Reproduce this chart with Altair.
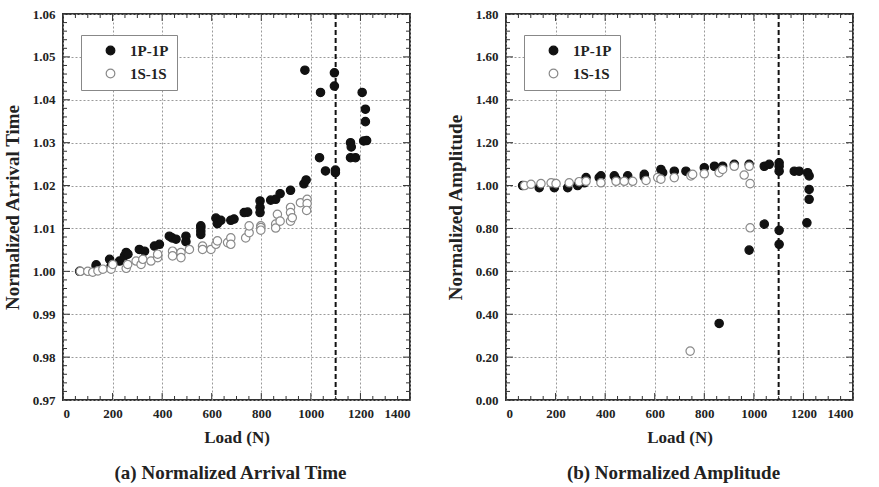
import altair as alt
import pandas as pd

FONT = "Liberation Serif"
W, H = 347, 386

# ---------------- Panel (a): Normalized Arrival Time ----------------
a_p_load = [67, 134, 134, 188, 194, 228, 248, 255, 262, 308, 329, 369, 389, 429, 440, 456,
            496, 496, 556, 556, 556, 556, 617, 623, 637, 677, 690, 731, 745, 795, 795, 795,
            838, 858, 876, 918, 972, 981, 976, 1035, 1039, 1059, 1095, 1095, 1099, 1099,
            1160, 1160, 1163, 1180, 1207, 1220, 1220, 1213, 1225]
a_p_val = [1.0000, 1.0015, 1.0012, 1.0028, 1.0012, 1.0024, 1.0036, 1.0044, 1.0040, 1.0051,
           1.0047, 1.0059, 1.0063, 1.0082, 1.0078, 1.0075, 1.0082, 1.0069, 1.0106, 1.0102,
           1.0094, 1.0086, 1.0124, 1.0111, 1.0119, 1.0119, 1.0122, 1.0137, 1.0138, 1.0164,
           1.0149, 1.0137, 1.0166, 1.0168, 1.0181, 1.0189, 1.0204, 1.0213, 1.0469, 1.0265,
           1.0417, 1.0234, 1.0463, 1.0432, 1.0230, 1.0236, 1.0300, 1.0265, 1.0290, 1.0265,
           1.0417, 1.0378, 1.0349, 1.0304, 1.0305]
a_s_load = [70, 100, 120, 141, 161, 194, 201, 255, 261, 295, 315, 322, 355, 382, 382, 442,
            442, 476, 476, 510, 563, 563, 597, 617, 623, 664, 677, 677, 737, 751, 751, 798,
            798, 798, 858, 858, 865, 876, 918, 918, 918, 925, 958, 985, 985, 983]
a_s_val = [1.0000, 1.0000, 0.9998, 1.0001, 1.0005, 1.0005, 1.0016, 1.0007, 1.0016, 1.0024,
           1.0016, 1.0028, 1.0024, 1.0032, 1.0040, 1.0047, 1.0036, 1.0044, 1.0032, 1.0051,
           1.0059, 1.0051, 1.0051, 1.0063, 1.0071, 1.0067, 1.0078, 1.0063, 1.0078, 1.0090,
           1.0106, 1.0106, 1.0102, 1.0096, 1.0110, 1.0101, 1.0133, 1.0117, 1.0149, 1.0137,
           1.0117, 1.0125, 1.0160, 1.0168, 1.0158, 1.0142]

# ---------------- Panel (b): Normalized Amplitude ----------------
b_p_load = [67, 134, 195, 195, 249, 289, 316, 323, 376, 383, 437, 444, 491, 558, 558, 625,
            632, 679, 726, 800, 841, 874, 921, 981, 1042, 1062, 1102, 1102, 1102, 1163, 1183,
            1217, 1223, 1223, 1223, 1214, 1042, 1102, 1102, 981, 860]
b_p_val = [1.00, 0.99, 0.99, 1.01, 0.99, 1.00, 1.013, 1.037, 1.037, 1.045, 1.045, 1.03, 1.045,
           1.052, 1.04, 1.075, 1.06, 1.067, 1.067, 1.083, 1.09, 1.09, 1.099, 1.099, 1.09, 1.099,
           1.106, 1.09, 1.067, 1.067, 1.067, 1.06, 1.045, 0.982, 0.936, 0.826, 0.820, 0.791,
           0.726, 0.699, 0.357]
b_s_load = [75, 101, 141, 182, 202, 255, 295, 323, 383, 444, 477, 511, 565, 612, 625, 679,
            746, 753, 800, 860, 874, 921, 961, 981, 985, 985, 743]
b_s_val = [1.00, 1.006, 1.009, 1.013, 1.009, 1.013, 1.018, 1.02, 1.013, 1.02, 1.02, 1.02,
           1.024, 1.037, 1.03, 1.037, 1.045, 1.052, 1.055, 1.06, 1.075, 1.09, 1.049, 1.09,
           1.009, 0.803, 0.228]

SERIES = ["1P-1P", "1S-1S"]
LIMIT_LOAD = [1100]

x_major = [0, 200, 400, 600, 800, 1000, 1200, 1400]
x_minor = [v for v in range(0, 1401, 50) if v % 200]
a_y_major = [0.97, 0.98, 0.99, 1.00, 1.01, 1.02, 1.03, 1.04, 1.05, 1.06]
a_y_minor = [round(0.97 + 0.002 * i, 3) for i in range(46) if i % 5]
b_y_major = [0.0, 0.2, 0.4, 0.6, 0.8, 1.0, 1.2, 1.4, 1.6, 1.8]
b_y_minor = [round(0.04 * i, 2) for i in range(46) if i % 5]


def panel(p_load, p_val, s_load, s_val, ydom, ymajor, yminor, ytitle, caption):
    sx = alt.Scale(domain=[0, 1400], nice=False, zero=False)
    sy = alt.Scale(domain=ydom, nice=False, zero=False)
    ax_x = alt.Axis(values=x_major, format="d", grid=True, title="Load (N)")
    ax_y = alt.Axis(values=ymajor, format=".2f", grid=True, title=ytitle)

    def X(field):
        return alt.X(field, scale=sx, axis=ax_x)

    def Y(field):
        return alt.Y(field, scale=sy, axis=ax_y)

    df = pd.concat([
        pd.DataFrame({"load": p_load, "val": p_val, "series": SERIES[0]}),
        pd.DataFrame({"load": s_load, "val": s_val, "series": SERIES[1]}),
    ], ignore_index=True)

    legend = alt.Legend(
        title=None, orient="none", legendX=18, legendY=21,
        strokeColor="#888", fillColor="white", padding=8,
        labelFont=FONT, labelFontSize=15, labelFontWeight="bold", labelColor="#222",
        symbolType="circle", symbolSize=75, symbolStrokeWidth=1.2,
        symbolOffset=14, labelOffset=12, rowPadding=7,
    )

    points = alt.Chart(df).mark_point(filled=True, size=70, strokeWidth=1.2, opacity=1).encode(
        x=X("load:Q"),
        y=Y("val:Q"),
        fill=alt.Fill("series:N", scale=alt.Scale(domain=SERIES, range=["#111111", "white"]),
                      legend=legend),
        stroke=alt.Stroke("series:N", scale=alt.Scale(domain=SERIES, range=["#111111", "#8a8a8a"]),
                          legend=legend),
    )

    vline = alt.Chart(pd.DataFrame({"load": LIMIT_LOAD})).mark_rule(
        color="#111", strokeWidth=2, strokeDash=[5, 3]
    ).encode(x=X("load:Q"))

    def ticks(values, orient, length):
        base = alt.Chart(pd.DataFrame({"t": values})).mark_rule(color="#333", strokeWidth=1)
        if orient == "bottom":
            return base.encode(x=X("t:Q"), y=alt.value(H), y2=alt.value(H - length))
        if orient == "top":
            return base.encode(x=X("t:Q"), y=alt.value(0), y2=alt.value(length))
        if orient == "left":
            return base.encode(y=Y("t:Q"), x=alt.value(0), x2=alt.value(length))
        return base.encode(y=Y("t:Q"), x=alt.value(W), x2=alt.value(W - length))

    tick_list = [
        ticks(x_major, "bottom", 7), ticks(x_major, "top", 7),
        ticks(x_minor, "bottom", 4), ticks(x_minor, "top", 4),
        ticks(ymajor, "left", 7), ticks(ymajor, "right", 7),
        ticks(yminor, "left", 4), ticks(yminor, "right", 4),
    ]

    return alt.layer(points, vline, *tick_list).properties(
        width=W, height=H,
        title=alt.TitleParams(caption, orient="bottom", anchor="middle", frame="group",
                              font=FONT, fontSize=19, fontWeight="bold", color="#222",
                              offset=19, dx=-6),
    )


chart_a = panel(a_p_load, a_p_val, a_s_load, a_s_val, [0.97, 1.06], a_y_major, a_y_minor,
                "Normalized Arrival Time", "(a) Normalized Arrival Time")
chart_b = panel(b_p_load, b_p_val, b_s_load, b_s_val, [0.0, 1.8], b_y_major, b_y_minor,
                "Normalized Amplitude", "(b) Normalized Amplitude")

chart = alt.hconcat(chart_a, chart_b, spacing=33).resolve_scale(
    fill="independent", stroke="independent"
).resolve_legend(fill="independent", stroke="independent").properties(
    padding={"left": 2, "top": 7, "right": 0, "bottom": 0},
    background="white",
).configure_axis(
    labelFont=FONT, labelFontSize=13, labelFontWeight="bold", labelColor="#222",
    titleFont=FONT, titleFontSize=19, titleFontWeight="bold", titleColor="#222",
    domain=False, ticks=False, labelPadding=8,
    gridColor="#9a9a9a", gridDash=[2, 2], gridWidth=1,
).configure_axisX(
    labelPadding=7, titlePadding=9, titleFontSize=17,
).configure_axisY(
    titlePadding=10,
).configure_view(
    stroke="#333", strokeWidth=2,
)

chart.save("out.html", embed_options={"renderer": "svg", "actions": False})
